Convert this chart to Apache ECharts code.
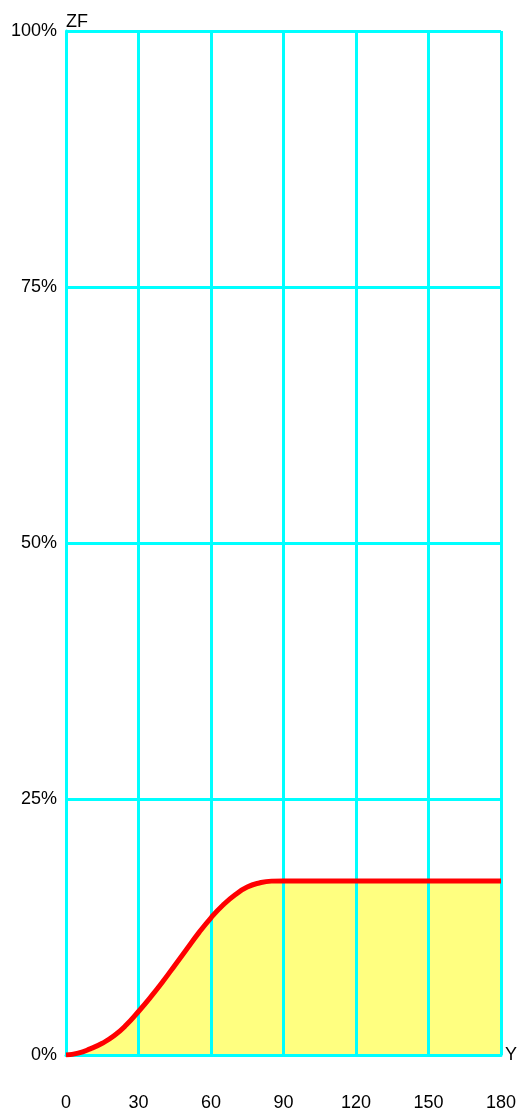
<!DOCTYPE html>
<html><head><meta charset="utf-8">
<script src="https://cdn.jsdelivr.net/npm/echarts@6/dist/echarts.min.js"></script>
<style>html,body{margin:0;padding:0;background:#fff}#c{width:521px;height:1112px}</style>
</head><body><div id="c"></div>
<script>
const xValues = [0, 5, 10, 15, 20, 25, 30, 35, 40, 45, 50, 55, 60, 65, 70, 75, 80, 85, 90, 95, 100, 120, 140, 160, 180];
const zfValues = [0, 0.18, 0.6, 1.15, 1.9, 2.95, 4.25, 5.65, 7.15, 8.75, 10.35, 11.95, 13.4, 14.65, 15.65, 16.4, 16.8, 16.98, 17.0, 17.0, 17.0, 17.0, 17.0, 17.0, 17.0];
const xTicks = [0, 30, 60, 90, 120, 150, 180];
const yTicks = [0, 25, 50, 75, 100];

const chart = echarts.init(document.getElementById('c'), null, {renderer: 'canvas'});
const cyan = '#00FFFF';
const pts = xValues.map((x, i) => [x, zfValues[i]]);
chart.setOption({
  animation: false,
  grid: {left: 66, right: 20, top: 31, bottom: 54, containLabel: false},
  xAxis: {
    type: 'value', min: 0, max: 180, interval: 30, z: 3,
    name: 'Y', nameLocation: 'end', nameGap: 4,
    nameTextStyle: {color: '#000', fontSize: 18, fontFamily: 'Liberation Sans', verticalAlign: 'middle', padding: [18, 0, 0, 0]},
    axisLine: {show: true, lineStyle: {color: cyan, width: 3}},
    axisTick: {show: false},
    splitLine: {show: true, lineStyle: {color: cyan, width: 3}},
    axisLabel: {color: '#000', fontSize: 18, fontFamily: 'Liberation Sans', margin: 39}
  },
  yAxis: {
    type: 'value', min: 0, max: 100, interval: 25, z: 3,
    name: 'ZF', nameLocation: 'end', nameGap: 0,
    nameTextStyle: {color: '#000', fontSize: 18, fontFamily: 'Liberation Sans', align: 'left', padding: [0, 0, 0, 0]},
    axisLine: {show: true, lineStyle: {color: cyan, width: 3}},
    axisTick: {show: false},
    splitLine: {show: true, lineStyle: {color: cyan, width: 3}},
    axisLabel: {color: '#000', fontSize: 18, fontFamily: 'Liberation Sans', margin: 9, formatter: v => v + '%'}
  },
  series: [{
    type: 'line',
    data: pts,
    smooth: 0.5,
    showSymbol: false,
    lineStyle: {width: 0, opacity: 0},
    areaStyle: {color: '#FFFF80', opacity: 1},
    z: 1
  }, {
    type: 'line',
    data: pts,
    smooth: 0.5,
    showSymbol: false,
    lineStyle: {color: '#FF0000', width: 5},
    z: 5
  }]
});
</script></body></html>
